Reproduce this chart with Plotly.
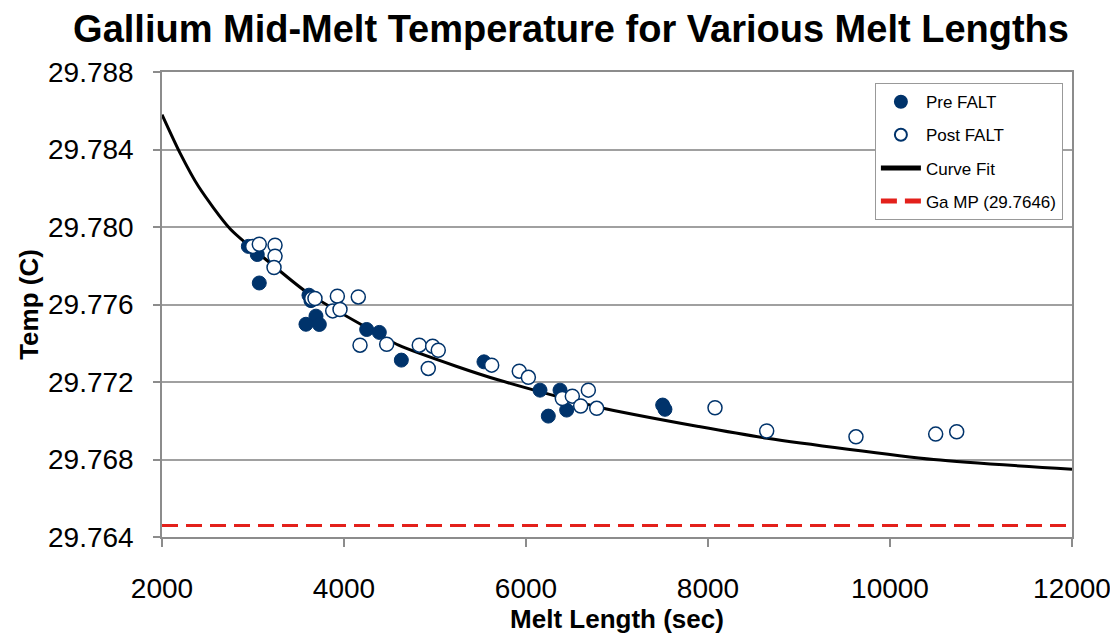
import plotly.graph_objects as go

# ---- data ----
pre_x = [2949, 3047, 3069, 3615, 3637, 3692, 3582, 3729, 4249, 4388, 4630,
         5538, 6154, 6374, 6245, 6447, 7502, 7527]
pre_y = [29.7790, 29.77858, 29.77711, 29.77648, 29.7762, 29.7754, 29.77498,
         29.77497, 29.77471, 29.77456, 29.77313, 29.77304, 29.77158, 29.77158,
         29.77024, 29.77055, 29.77081, 29.77059]

post_x = [2996, 3069, 3242, 3242, 3231, 3645, 3681, 3927, 4157, 3876, 3956,
          4176, 4469, 4827, 4974, 5036, 4926, 5623, 5926, 6026, 6399, 6509,
          6685, 6601, 6777, 8077, 8645, 9626, 10502, 10733]
post_y = [29.7790, 29.77911, 29.77906, 29.77849, 29.77791, 29.77631, 29.77631,
          29.77643, 29.77639, 29.77567, 29.77574, 29.77390, 29.77395, 29.77390,
          29.77385, 29.77364, 29.77270, 29.77287, 29.77256, 29.77224, 29.77115,
          29.77127, 29.77158, 29.77076, 29.77064, 29.77067, 29.76947, 29.76917,
          29.76931, 29.76943]

fit_x = [2000, 2200, 2400, 2750, 3200, 3600, 4250, 4600, 5240, 5700, 6800,
         7900, 8650, 10480, 12000]
fit_y = [29.7858, 29.7838, 29.7821, 29.7799, 29.7781, 29.7766, 29.7748,
         29.7739, 29.7728, 29.7721, 29.7707, 29.7697, 29.7691, 29.7680, 29.7675]

mp_x = [2000, 12000]
mp_y = [29.7646, 29.7646]

x_ticks = [2000, 4000, 6000, 8000, 10000, 12000]
y_ticks = [29.764, 29.768, 29.772, 29.776, 29.780, 29.784, 29.788]

NAVY = "#00336B"
FONT = "Liberation Sans, Arial, sans-serif"

fig = go.Figure()
fig.add_trace(go.Scatter(
    x=fit_x, y=fit_y, mode="lines", name="Curve Fit", line_shape="spline",
    line=dict(color="black", width=3, smoothing=0.7), legendrank=3, legendgroup="c"))
fig.add_trace(go.Scatter(
    x=mp_x, y=mp_y, mode="lines", name="Ga MP (29.7646)",
    line=dict(color="#E3201B", width=3, dash="16px,8px"), legendrank=4, legendgroup="d"))
fig.add_trace(go.Scatter(
    x=pre_x, y=pre_y, mode="markers", name="Pre FALT",
    marker=dict(symbol="circle", size=14, color=NAVY, line=dict(color=NAVY, width=1)),
    legendrank=1, legendgroup="a"))
fig.add_trace(go.Scatter(
    x=post_x, y=post_y, mode="markers", name="Post FALT",
    marker=dict(symbol="circle", size=14, color="white", line=dict(color=NAVY, width=1.5)),
    legendrank=2, legendgroup="b"))

fig.update_layout(
    width=1118, height=634,
    margin=dict(l=154, r=54, t=64, b=105, autoexpand=False),
    paper_bgcolor="white", plot_bgcolor="white",
    font=dict(family=FONT, color="black"),
    title=dict(text="<b>Gallium Mid-Melt Temperature for Various Melt Lengths</b>",
               font=dict(size=38, family=FONT, color="black"),
               x=0.5036, xanchor="center", xref="container",
               y=1 - 21 / 634, yanchor="middle", yref="container"),
    showlegend=True,
    legend=dict(x=0.99, y=0.976, xanchor="right", yanchor="top",
                bgcolor="white", bordercolor="#999999", borderwidth=1,
                font=dict(size=17, family=FONT, color="black"),
                traceorder="grouped", tracegroupgap=8, itemsizing="constant",
                itemwidth=40),
)

fig.update_xaxes(
    range=[2000, 12000], tickvals=x_ticks, ticktext=[str(v) for v in x_ticks],
    showgrid=False, zeroline=False, automargin=False,
    showline=True, linecolor="#8C8C8C", linewidth=1.5, mirror=True,
    ticks="outside", ticklen=8, tickcolor="#8C8C8C", tickwidth=1.5,
    tickfont=dict(size=28, family=FONT, color="black"),
    ticklabelstandoff=18,
    title=dict(text="<b>Melt Length (sec)</b>", font=dict(size=26, family=FONT, color="black"),
               standoff=0),
)
fig.update_yaxes(
    range=[29.764, 29.788], tickvals=y_ticks, ticktext=[f"{v:.3f}" for v in y_ticks],
    showgrid=True, gridcolor="#A0A0A0", gridwidth=1.5, zeroline=False, automargin=False,
    showline=True, linecolor="#8C8C8C", linewidth=1.5, mirror=True,
    ticks="outside", ticklen=7, tickcolor="#8C8C8C", tickwidth=1.5,
    tickfont=dict(size=28, family=FONT, color="black"),
    ticklabelstandoff=14,
    title=dict(text="<b>Temp (C)</b>", font=dict(size=26, family=FONT, color="black"),
               standoff=2),
)

fig.write_html("out.html")
